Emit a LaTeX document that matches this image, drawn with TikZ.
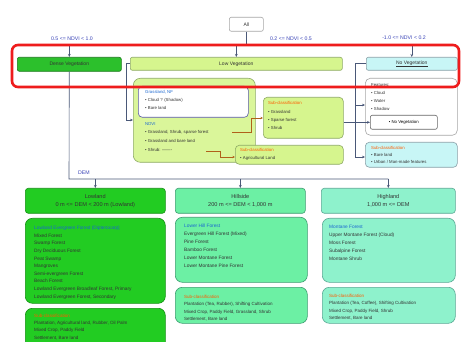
\documentclass[tikz,border=0pt]{standalone}
\usepackage{fontspec}
\setmainfont{Liberation Sans}
\usetikzlibrary{arrows.meta}
\definecolor{linec}{HTML}{4A5878}
\definecolor{oline}{HTML}{B0601A}
\definecolor{lblue}{HTML}{3A44B8}
\definecolor{hblue}{HTML}{1A66D0}
\definecolor{orng}{HTML}{FF5A00}
\definecolor{redf}{HTML}{EE1C1C}
\definecolor{dvfill}{HTML}{2CC02C}
\definecolor{dvdraw}{HTML}{1A7A1A}
\definecolor{lvfill}{HTML}{D6F58E}
\definecolor{lvfillb}{HTML}{DAF69A}
\definecolor{lvdraw}{HTML}{8EAA66}
\definecolor{nvfill}{HTML}{C8F6F6}
\definecolor{nvdraw}{HTML}{8AA0A8}
\definecolor{lofill}{HTML}{22CC22}
\definecolor{lodraw}{HTML}{149014}
\definecolor{hifill}{HTML}{6CF0A4}
\definecolor{hidraw}{HTML}{3C9C70}
\definecolor{hgfill}{HTML}{8EF2CC}
\definecolor{hgdraw}{HTML}{5AA894}
\begin{document}
\begin{tikzpicture}[x=1pt,y=-1pt,
  bx/.style={draw, rounded corners=2pt, inner sep=0pt, anchor=north west, line width=0.6pt},
  rbx/.style={bx, rounded corners=7pt},
  conn/.style={draw=linec, line width=0.6pt},
  arr/.style={conn, -{Stealth[length=3pt,width=2.6pt]}},
  oarr/.style={draw=oline, line width=0.6pt, -{Stealth[length=2.5pt,width=2.2pt]}},
  ndvi/.style={text=lblue, font=\fontsize{5.2}{6}\selectfont, inner sep=0pt},
  lab/.style={font=\fontsize{5}{6}\selectfont, text=black!80},
  hd/.style={font=\fontsize{5.6}{8}\selectfont, align=center, text=black!80},
  tx/.style={font=\fontsize{4.8}{7.6}\selectfont, align=left, anchor=north west, inner sep=0pt, text=black!80},
  sm/.style={font=\fontsize{4.3}{8}\selectfont, align=left, anchor=north west, inner sep=0pt, text=black!80},
]
\fill[white] (0,0) rectangle (461,342);
\useasboundingbox (0,0) rectangle (461,342);

% top level
\node[bx, draw=gray!70, fill=white, minimum width=34pt, minimum height=14pt, lab] (all) at (229,17) {All};
\node[ndvi] (l1) at (72,39) {0.5 <= NDVI < 1.0};
\node[ndvi] (l2) at (291,39) {0.2 <= NDVI < 0.5};
\node[ndvi] (l3) at (404,38) {-1.0 <= NDVI < 0.2};

\node[bx, draw=dvdraw, fill=dvfill, minimum width=104pt, minimum height=14pt, lab] (dv) at (17,57) {Dense Vegetation};
\node[bx, draw=lvdraw, fill=lvfill, minimum width=212pt, minimum height=13pt, lab] (lv) at (130,57) {Low Vegetation};
\node[bx, draw=nvdraw, fill=nvfill, minimum width=91pt, minimum height=13pt, lab] (nv) at (366,57) {\underline{No Vegetation}};

% low vegetation details
\node[rbx, draw=lvdraw, fill=lvfillb, minimum width=122pt, minimum height=84pt] (lvbig) at (133,78) {};
\node[bx, rounded corners=4pt, draw=gray!70!blue, fill=white, minimum width=110pt, minimum height=31pt] (lvin) at (138,86) {};
\node[sm] (lvt1) at (145,90) {{\color{hblue}Grassland, NF}\\ • Cloud ? (Shadow)\\ • Bare land};
\node[sm, font=\fontsize{4.3}{8.7}\selectfont] (lvt2) at (145,122) {{\color{hblue}NDVI}\\ • Grassland, Shrub, sparse forest\\ • Grassland and bare land\\ • Shrub: -------};

\node[bx, rounded corners=4pt, draw=lvdraw, fill=lvfill, minimum width=80pt, minimum height=41pt] (sa) at (263,97) {};
\node[sm, font=\fontsize{4.3}{8.3}\selectfont] (sat) at (268,101.5) {{\color{orng}Sub-classification}\\ • Grassland\\ • Sparse forest\\ • Shrub};
\node[bx, rounded corners=4pt, draw=lvdraw, fill=lvfill, minimum width=108pt, minimum height=19pt] (sb) at (235,145) {};
\node[sm] (sbt) at (240,148) {{\color{orng}Sub-classification}\\ • Agricultural Land};

% no vegetation details
\node[bx, rounded corners=5pt, draw=gray!70, fill=white, minimum width=92pt, minimum height=57pt] (feat) at (365,78) {};
\node[sm] (featt) at (371,83) {Features:\\ • Cloud\\ • Water\\ • Shadow};
\node[bx, draw=gray!80!black, fill=white, minimum width=67pt, minimum height=14pt, font=\fontsize{4.3}{5}\selectfont] (nvin) at (370,115) {• No Vegetation};
\node[bx, rounded corners=4pt, draw=nvdraw, fill=nvfill, minimum width=92pt, minimum height=25pt] (cy) at (365,142) {};
\node[sm, font=\fontsize{4.3}{7}\selectfont] (cyt) at (371,146) {{\color{orng}Sub-classification}\\ • Bare land\\ • Urban / Man-made features};

% DEM level
\node[ndvi] (dem) at (84,173) {DEM};
\node[bx, rounded corners=3pt, draw=lodraw, fill=lofill, minimum width=140pt, minimum height=25pt, hd] (loh) at (25,188) {Lowland\\0 m <= DEM < 200 m (Lowland)};
\node[bx, rounded corners=3pt, draw=hidraw, fill=hifill, minimum width=130pt, minimum height=25pt, hd] (hih) at (175,188) {Hillside\\200 m <= DEM < 1,000 m};
\node[bx, rounded corners=3pt, draw=hgdraw, fill=hgfill, minimum width=134pt, minimum height=25pt, hd] (hgh) at (321,188) {Highland\\1,000 m <= DEM};

\node[rbx, draw=lodraw, fill=lofill, minimum width=140pt, minimum height=85pt] (loc) at (25,218) {};
\node[tx] (loct) at (34,226) {{\color{hblue}Lowland Evergreen Forest (Dipterocarp)}\\ Mixed Forest\\ Swamp Forest\\ Dry Deciduous Forest\\ Peat Swamp\\ Mangroves\\ Semi-evergreen Forest\\ Beach Forest\\ Lowland Evergreen Broadleaf Forest, Primary\\ Lowland Evergreen Forest, Secondary};
\node[rbx, draw=lodraw, fill=lofill, minimum width=140pt, minimum height=45pt] (lob) at (25,308) {};
\node[tx, font=\fontsize{4.6}{7.4}\selectfont] (lobt) at (34,313.5) {{\color{orng}Sub-classification}\\ Plantation, Agricultural land, Rubber, Oil Palm\\ Mixed Crop, Paddy Field\\ Settlement, Bare land};

\node[rbx, draw=hidraw, fill=hifill, minimum width=132pt, minimum height=65pt] (hic) at (175,217) {};
\node[tx, font=\fontsize{4.8}{8}\selectfont] (hict) at (184,224) {{\color{hblue}Lower Hill Forest}\\ Evergreen Hill Forest (Mixed)\\ Pine Forest\\ Bamboo Forest\\ Lower Montane Forest\\ Lower Montane Pine Forest};
\node[rbx, draw=hidraw, fill=hifill, minimum width=132pt, minimum height=36pt] (hib) at (175,287) {};
\node[tx, font=\fontsize{4.5}{7.5}\selectfont] (hibt) at (184,295) {{\color{orng}Sub-classification}\\ Plantation (Tea, Rubber), Shifting Cultivation\\ Mixed Crop, Paddy Field, Grassland, Shrub\\ Settlement, Bare land};

\node[rbx, draw=hgdraw, fill=hgfill, minimum width=133pt, minimum height=64pt] (hgc) at (322,218) {};
\node[tx, font=\fontsize{4.8}{7.9}\selectfont] (hgct) at (329,225) {{\color{hblue}Montane Forest}\\ Upper Montane Forest (Cloud)\\ Moss Forest\\ Subalpine Forest\\ Montane Shrub};
\node[rbx, draw=hgdraw, fill=hgfill, minimum width=133pt, minimum height=36pt] (hgb) at (322,287) {};
\node[tx, font=\fontsize{4.5}{7.5}\selectfont] (hgbt) at (329,294) {{\color{orng}Sub-classification}\\ Plantation (Tea, Coffee), Shifting Cultivation\\ Mixed Crop, Paddy Field, Shrub\\ Settlement, Bare land};

% connectors top
\coordinate (tbl) at (69,45);
\coordinate (tbr) at (411.5,45);
\draw[conn] (all.south) -- (all.south |- tbl);
\draw[conn] (tbl) -- (tbr);
\draw[arr] (dv.north |- tbl) -- (dv.north);
\draw[arr] (lv.north |- tbl) -- (lv.north);
\draw[arr] (nv.north |- tbl) -- (nv.north);

% low vegetation connectors
\coordinate (lvi) at (133,120);
\draw[arr] (lv.west) -- ++(-3.5,0) |- (lvi);
\coordinate (o1) at (232,132);
\coordinate (o1e) at (263,118);
\draw[oarr] (o1) -- ++(19,0) |- (o1e);
\coordinate (o2) at (206,151);
\coordinate (o2e) at (235,157);
\draw[oarr] (o2) -- ++(14,0) |- (o2e);

% no vegetation connectors
\coordinate (rv) at (355,157);
\coordinate (rv1) at (355,105);
\draw[conn] (nv.west) -| (rv);
\draw[arr] (rv1) -- (feat.west |- rv1);
\draw[arr] (rv) -- (cy.west |- rv);
\draw[arr] (sa.east |- nvin.west) -- (nvin.west);

% DEM connectors
\coordinate (dm) at (69,179);
\draw[conn] (dv.south) -- (dm) -- (hgh.north |- dm);
\draw[arr] (loh.north |- dm) -- (loh.north);
\draw[arr] (hih.north |- dm) -- (hih.north);
\draw[arr] (hgh.north |- dm) -- (hgh.north);

% red highlight frame
\draw[redf, line width=2.6pt, rounded corners=6pt] (12,45) rectangle (459,87);
\end{tikzpicture}
\end{document}
